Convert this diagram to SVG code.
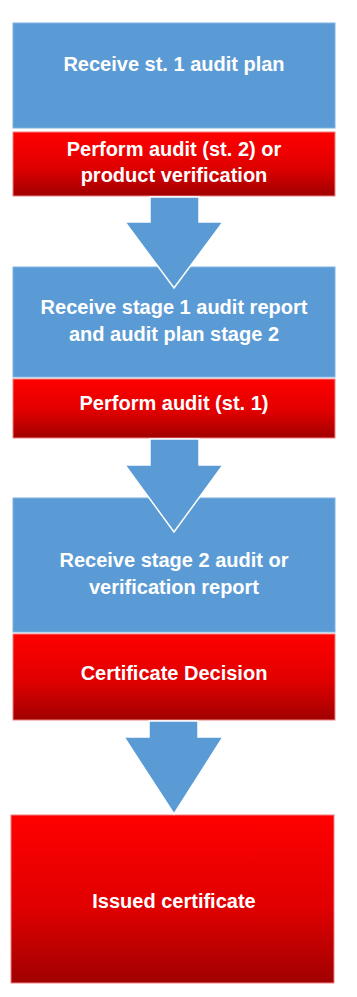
<svg xmlns="http://www.w3.org/2000/svg" width="357" height="997" viewBox="0 0 357 997">
<style>
.blue{fill:#5b9bd5;stroke:#7fb2e0;stroke-width:1}
.red{fill:url(#rg);stroke:#f08080;stroke-width:1}
.arrow{fill:#5b9bd5;stroke:#ffffff;stroke-width:1.5;stroke-linejoin:miter}
.t{font-family:"Liberation Sans",Arial,sans-serif;font-weight:bold;font-size:20px;fill:#ffffff;text-anchor:middle}
</style>
<defs>
<linearGradient id="rg" x1="0" y1="0" x2="0" y2="1">
<stop offset="0" stop-color="#ff0000"/>
<stop offset="0.55" stop-color="#e00000"/>
<stop offset="1" stop-color="#a00000"/>
</linearGradient>
</defs>
<rect width="357" height="997" fill="#ffffff"/>
<g id="n1"><rect class="blue" x="13" y="23" width="322" height="105"/><text class="t" x="174" y="71">Receive st. 1 audit plan</text></g>
<g id="n2"><rect class="red" x="13" y="132" width="322" height="64"/><text class="t" x="174" y="156">Perform audit (st. 2) or</text><text class="t" x="174" y="182">product verification</text></g>
<g id="n3"><rect class="blue" x="13" y="267" width="322" height="110"/><text class="t" x="174" y="314">Receive stage 1 audit report</text><text class="t" x="174" y="341">and audit plan stage 2</text></g>
<g id="n4"><rect class="red" x="13" y="379" width="322" height="59"/><text class="t" x="174" y="410">Perform audit (st. 1)</text></g>
<g id="n5"><rect class="blue" x="13" y="498" width="322" height="134"/><text class="t" x="174" y="567">Receive stage 2 audit or</text><text class="t" x="174" y="594">verification report</text></g>
<g id="n6"><rect class="red" x="13" y="634" width="322" height="86"/><text class="t" x="174" y="680">Certificate Decision</text></g>
<g id="n7"><rect class="red" x="11" y="815" width="323" height="168"/><text class="t" x="174" y="908">Issued certificate</text></g>
<g id="connectors">
<polygon class="arrow" points="150,197 199,197 199,222 223,222 174,288 125,222 150,222"/>
<polygon class="arrow" points="150,439 199,439 199,465 223,465 174,532 125,465 150,465"/>
<polygon class="arrow" points="149,721 198,721 198,737 223,737 174,814 124,737 149,737"/>
</g>
</svg>
